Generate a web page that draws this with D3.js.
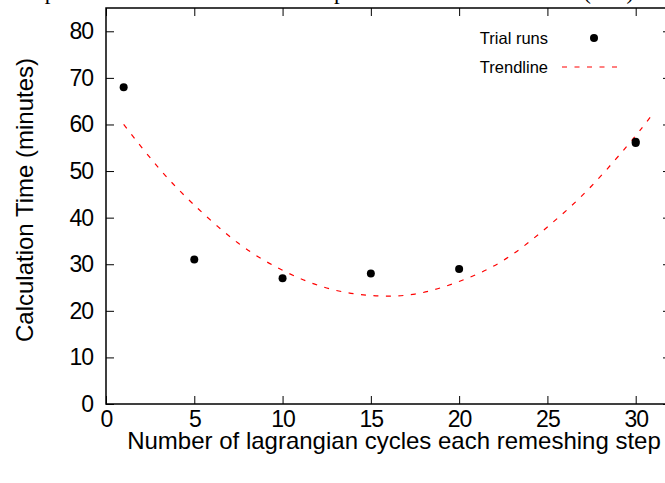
<!DOCTYPE html>
<html>
<head>
<meta charset="utf-8">
<script src="https://cdn.jsdelivr.net/npm/d3@7"></script>
<style>
  body { margin: 0; background: #fff; }
  svg { display: block; }
</style>
</head>
<body>
<div id="scatter"></div>
<script>
// trial runs: lagrangian cycles per remeshing step vs calc time
var runCycles = [1, 5, 10, 15, 20, 30, 30];
var runMinutes = [68, 31, 27, 28, 29, 56, 56.3];

// trendline
var trendCycles = [1, 3, 5, 7.5, 10, 12.5, 15, 17.5, 20, 22.5, 25, 27.5, 30, 31];
var trendMinutes = [60, 50.6, 42.7, 34.5, 28.7, 24.9, 23.3, 23.6, 26.3, 30.8, 38.0, 46.8, 57.6, 62.5];

var xTicks = [0, 5, 10, 15, 20, 25, 30];
var yTicks = [0, 10, 20, 30, 40, 50, 60, 70, 80];

var svgWidth = 665;
var svgHeight = 483;

// plot box, right side runs off the page a bit
var chartMargin = { top: 8, left: 106, right: -6, bottom: 79 };
var chartWidth = svgWidth - chartMargin.left - chartMargin.right;
var chartHeight = svgHeight - chartMargin.top - chartMargin.bottom;

var svg = d3.select("#scatter")
  .append("svg")
  .attr("width", svgWidth)
  .attr("height", svgHeight);

// title is mostly cut off at the top edge
svg.append("text")
  .attr("x", 0)
  .attr("y", -1)
  .attr("font-family", "Liberation Serif, Times New Roman, serif")
  .attr("font-size", 23)
  .text("Computation time of the simulation per remesh interval choice (min)");

var chartGroup = svg.append("g")
  .attr("transform", `translate(${chartMargin.left}, ${chartMargin.top})`);

var xScale = d3.scaleLinear().domain([0, 32]).range([0, chartWidth]);
var yScale = d3.scaleLinear().domain([0, 85]).range([chartHeight, 0]);

var tickLen = 8;
var font = "Liberation Sans, Arial, Helvetica, sans-serif";

// bottom + top axes, ticks point inward
var bottomAxis = d3.axisBottom(xScale).tickValues(xTicks).tickSize(-tickLen).tickPadding(7).tickFormat(d3.format("d"));
var topAxis = d3.axisTop(xScale).tickValues(xTicks).tickSize(-tickLen).tickFormat("");
var leftAxis = d3.axisLeft(yScale).tickValues(yTicks).tickSize(-tickLen).tickPadding(13).tickFormat(d3.format("d"));
var rightAxis = d3.axisRight(yScale).tickValues(yTicks).tickSize(-tickLen).tickFormat("");

function styleAxis(g) {
  g.select(".domain").remove();
  g.selectAll(".tick line").attr("stroke", "#000").attr("stroke-width", 1);
  g.selectAll(".tick text")
    .attr("fill", "#000")
    .attr("font-family", font)
    .attr("font-size", 23)
    .attr("letter-spacing", -1);
}

chartGroup.append("g")
  .attr("transform", `translate(0, ${chartHeight})`)
  .call(bottomAxis)
  .call(styleAxis);

chartGroup.append("g").call(topAxis).call(styleAxis);
chartGroup.append("g").call(leftAxis).call(styleAxis);

chartGroup.append("g")
  .attr("transform", `translate(${chartWidth}, 0)`)
  .call(rightAxis)
  .call(styleAxis);

// frame
chartGroup.append("rect")
  .attr("width", chartWidth)
  .attr("height", chartHeight)
  .attr("fill", "none")
  .attr("stroke", "#000")
  .attr("stroke-width", 1.5);

// trendline
var trendData = trendCycles.map(function(c, i) { return { x: c, y: trendMinutes[i] }; });
var line = d3.line()
  .x(d => xScale(d.x))
  .y(d => yScale(d.y))
  .curve(d3.curveNatural);

chartGroup.append("path")
  .datum(trendData)
  .attr("d", line)
  .attr("fill", "none")
  .attr("stroke", "#f00")
  .attr("stroke-width", 1.2)
  .attr("stroke-dasharray", "5,7.5");

// points
var runData = runCycles.map(function(c, i) { return { x: c, y: runMinutes[i] }; });
chartGroup.selectAll(".dot")
  .data(runData)
  .enter()
  .append("circle")
  .attr("class", "dot")
  .attr("cx", d => xScale(d.x))
  .attr("cy", d => yScale(d.y))
  .attr("r", 4)
  .attr("fill", "#000");

// axis labels
svg.append("text")
  .attr("x", 394)
  .attr("y", 449)
  .attr("text-anchor", "middle")
  .attr("font-family", font)
  .attr("font-size", 24)
  .text("Number of lagrangian cycles each remeshing step");

svg.append("text")
  .attr("transform", "rotate(-90)")
  .attr("x", -200)
  .attr("y", 33)
  .attr("text-anchor", "middle")
  .attr("font-family", font)
  .attr("font-size", 24)
  .text("Calculation Time (minutes)");

// legend
var legend = svg.append("g");
legend.append("text")
  .attr("x", 548)
  .attr("y", 38)
  .attr("dy", "0.35em")
  .attr("text-anchor", "end")
  .attr("font-family", font)
  .attr("font-size", 16.5)
  .text("Trial runs");
legend.append("circle")
  .attr("cx", 594)
  .attr("cy", 38)
  .attr("r", 4)
  .attr("fill", "#000");
legend.append("text")
  .attr("x", 548)
  .attr("y", 67)
  .attr("dy", "0.35em")
  .attr("text-anchor", "end")
  .attr("font-family", font)
  .attr("font-size", 16.5)
  .text("Trendline");
legend.append("line")
  .attr("x1", 562)
  .attr("x2", 621)
  .attr("y1", 67)
  .attr("y2", 67)
  .attr("stroke", "#f00")
  .attr("stroke-width", 1.2)
  .attr("stroke-dasharray", "5,7.5");
</script>
</body>
</html>
